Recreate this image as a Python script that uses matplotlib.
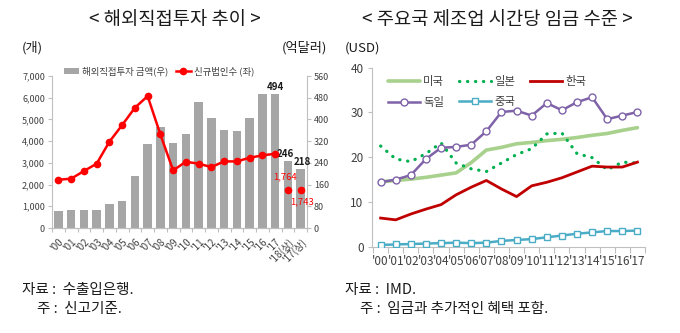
import matplotlib
matplotlib.use("Agg")
import matplotlib.pyplot as plt
from matplotlib.lines import Line2D
from matplotlib.patches import Patch

plt.rcParams['font.family'] = ['Noto Sans CJK KR', 'DejaVu Sans']

# ---------------- Left chart data ----------------
fdi_labels = ["'00", "'01", "'02", "'03", "'04", "'05", "'06", "'07", "'08", "'09",
              "'10", "'11", "'12", "'13", "'14", "'15", "'16", "'17", "'18(상)", "'17(상)"]
fdi_amount = [61, 65, 65, 65, 90, 98, 193, 308, 373, 315,
              347, 464, 407, 361, 358, 407, 495, 494, 246, 218]  # 억달러 (right axis)
new_corps = [2224, 2270, 2623, 2960, 3972, 4739, 5537, 6074, 4310, 2653,
             3052, 2960, 2807, 3067, 3067, 3236, 3344, 3420]      # 개 (left axis)
half_corps = [1764, 1743]                                         # '18(상), '17(상)

# ---------------- Right chart data ----------------
years = ["'00", "'01", "'02", "'03", "'04", "'05", "'06", "'07", "'08",
         "'09", "'10", "'11", "'12", "'13", "'14", "'15", "'16", "'17"]
usa = [14.5, 14.8, 15.1, 15.5, 16.0, 16.5, 18.8, 21.6, 22.2, 23.0,
       23.3, 23.7, 24.0, 24.4, 24.9, 25.3, 26.0, 26.6]
japan = [22.5, 19.6, 19.0, 20.8, 23.2, 18.7, 17.4, 16.8, 18.7, 20.6,
         21.9, 25.2, 25.4, 20.8, 19.9, 17.2, 18.9, 18.7]
korea = [6.4, 6.0, 7.3, 8.4, 9.4, 11.6, 13.3, 14.8, 12.9, 11.2,
         13.6, 14.4, 15.4, 16.7, 18.0, 17.8, 17.8, 18.9]
germany = [14.4, 15.0, 16.0, 19.6, 22.1, 22.3, 22.8, 25.8, 30.1, 30.4,
           29.3, 32.1, 30.5, 32.3, 33.4, 28.5, 29.3, 30.1]
china = [0.4, 0.5, 0.6, 0.7, 0.8, 0.9, 0.8, 0.9, 1.3, 1.5,
         1.7, 2.1, 2.5, 2.9, 3.2, 3.5, 3.5, 3.6]

W, H = 680, 333
fig = plt.figure(figsize=(6.8, 3.33), dpi=100)

def fx(px):
    return px / W

def fy(py):
    return 1 - py / H

axis_col = '#BFBFBF'
tick_col = '#404040'
txt_col = '#1a1a1a'

# ================= LEFT CHART =================
axL = fig.add_axes([fx(52), fy(228), fx(307 - 52), (228 - 76) / H])
axR = axL.twinx()
axL.set_zorder(axR.get_zorder() + 1)
axL.patch.set_visible(False)

xb = list(range(len(fdi_labels)))
axR.bar(xb, fdi_amount, width=0.68, color='#A6A6A6', zorder=1)
axR.set_ylim(0, 560)
axR.set_yticks(range(0, 561, 80))
axL.set_ylim(0, 7000)
axL.set_yticks(range(0, 7001, 1000))
axL.set_yticklabels([f"{v:,}" for v in range(0, 7001, 1000)])
axL.set_xlim(-0.5, len(fdi_labels) - 0.5)

xl = list(range(len(new_corps)))
axL.plot(xl, new_corps, color='#FF0000', lw=1.8, marker='o', ms=4.5, zorder=5)
axL.plot([18, 19], half_corps, color='#FF0000', lw=0, marker='o', ms=4.5, zorder=5)

for a in (axL, axR):
    a.spines['top'].set_visible(False)
    a.spines['left'].set_color(axis_col)
    a.spines['right'].set_color(axis_col)
    a.spines['bottom'].set_color(axis_col)
    a.tick_params(axis='y', colors=axis_col, labelcolor=tick_col, labelsize=6.5, length=3, pad=2)
axL.spines['right'].set_visible(False)
axR.spines['left'].set_visible(False)

axL.set_xticks([i - 0.5 for i in range(len(fdi_labels) + 1)], minor=False)
axL.set_xticklabels([])
axL.tick_params(axis='x', colors=axis_col, length=3)
axL.set_xticks(xb, minor=True)
axL.set_xticklabels(fdi_labels, minor=True, rotation=45, ha='right', va='top',
                    rotation_mode='anchor', fontsize=7, color=tick_col)
axL.tick_params(axis='x', which='minor', length=0, pad=6)

# value labels
axR.text(17, fdi_amount[17] + 8, "494", ha='center', va='bottom', fontsize=7, fontweight='bold', color=txt_col)
axR.text(17.8, fdi_amount[18] + 8, "246", ha='center', va='bottom', fontsize=7, fontweight='bold', color=txt_col)
axR.text(19.1, fdi_amount[19] + 6, "218", ha='center', va='bottom', fontsize=7, fontweight='bold', color=txt_col)
axL.text(17.8, half_corps[0] + 380, "1,764", ha='center', va='bottom', fontsize=6.8, color='#FF0000')
axL.text(19.1, half_corps[1] - 320, "1,743", ha='center', va='top', fontsize=6.8, color='#FF0000')

legL = [Patch(facecolor='#A6A6A6', edgecolor='none', label='해외직접투자 금액(우)'),
        Line2D([0], [0], color='#FF0000', lw=1.8, marker='o', ms=4.5, label='신규법인수 (좌)')]
axL.legend(handles=legL, loc='center', bbox_to_anchor=(0.42, 1.03), ncol=2, frameon=False,
           fontsize=6.8, handlelength=1.6, handleheight=0.5, handletextpad=0.3, columnspacing=0.8,
           labelcolor=tick_col)

fig.text(fx(175), fy(20), "< 해외직접투자 추이 >", ha='center', va='center', fontsize=13.5,
         fontweight='medium', color=txt_col)
fig.text(fx(22), fy(48), "(개)", ha='left', va='center', fontsize=9.5, color=txt_col)
fig.text(fx(327), fy(48), "(억달러)", ha='right', va='center', fontsize=9.5, color=txt_col)

# ================= RIGHT CHART =================
ax2 = fig.add_axes([fx(372), fy(246.7), fx(645 - 372), (246.7 - 67.7) / H])
xr = list(range(len(years)))
ax2.plot(xr, usa, color='#A9D18E', lw=2.6, label='미국', solid_capstyle='round', zorder=3)
ax2.plot(xr, japan, color='#00B050', lw=2.3, linestyle=(0, (0.1, 2.4)), dash_capstyle='round',
         label='일본', zorder=3)
ax2.plot(xr, korea, color='#C00000', lw=2.0, label='한국', zorder=4)
ax2.plot(xr, germany, color='#7F62A8', lw=1.8, marker='o', ms=5, mfc='white', mec='#7F62A8',
         mew=1.0, label='독일', zorder=5)
ax2.plot(xr, china, color='#4BACC6', lw=1.8, marker='s', ms=4.5, mfc='white', mec='#4BACC6',
         mew=1.0, label='중국', zorder=5)

ax2.set_ylim(0, 40)
ax2.set_yticks([0, 10, 20, 30, 40])
ax2.set_xlim(-0.57, 17.48)
ax2.set_xticks([i - 0.5 for i in range(len(years) + 1)])
ax2.set_xticklabels([])
ax2.set_xticks(xr, minor=True)
ax2.set_xticklabels(years, minor=True, fontsize=8.5, color=tick_col)
ax2.tick_params(axis='x', which='major', colors=axis_col, length=4)
ax2.tick_params(axis='x', which='minor', length=0, pad=6)
ax2.tick_params(axis='y', colors=axis_col, labelcolor=tick_col, labelsize=8.5, length=3, pad=3)
for s in ('top', 'right'):
    ax2.spines[s].set_visible(False)
ax2.spines['left'].set_color(axis_col)
ax2.spines['bottom'].set_color(axis_col)

h, l = ax2.get_legend_handles_labels()
order = [l.index(n) for n in ['미국', '독일', '일본', '중국', '한국']]
ax2.legend([h[i] for i in order], [l[i] for i in order], loc='upper left',
           bbox_to_anchor=(0.02, 1.01), ncol=3, frameon=False, fontsize=8.2,
           handlelength=2.8, handletextpad=0.3, columnspacing=1.3, labelspacing=0.85,
           labelcolor=tick_col)

fig.text(fx(497), fy(20), "< 주요국 제조업 시간당 임금 수준 >", ha='center', va='center', fontsize=13.5,
         fontweight='medium', color=txt_col)
fig.text(fx(345), fy(48), "(USD)", ha='left', va='center', fontsize=9.5, color=txt_col)

# ================= FOOTNOTES =================
fig.text(fx(22), fy(290), "자료 :  수출입은행.", ha='left', va='center', fontsize=10.5, color=txt_col)
fig.text(fx(37), fy(309), "주 :  신고기준.", ha='left', va='center', fontsize=10.5, color=txt_col)
fig.text(fx(345), fy(290), "자료 :  IMD.", ha='left', va='center', fontsize=10.5, color=txt_col)
fig.text(fx(360), fy(309), "주 :  임금과 추가적인 혜택 포함.", ha='left', va='center', fontsize=10.5, color=txt_col)

fig.savefig("out.png", dpi=100)
